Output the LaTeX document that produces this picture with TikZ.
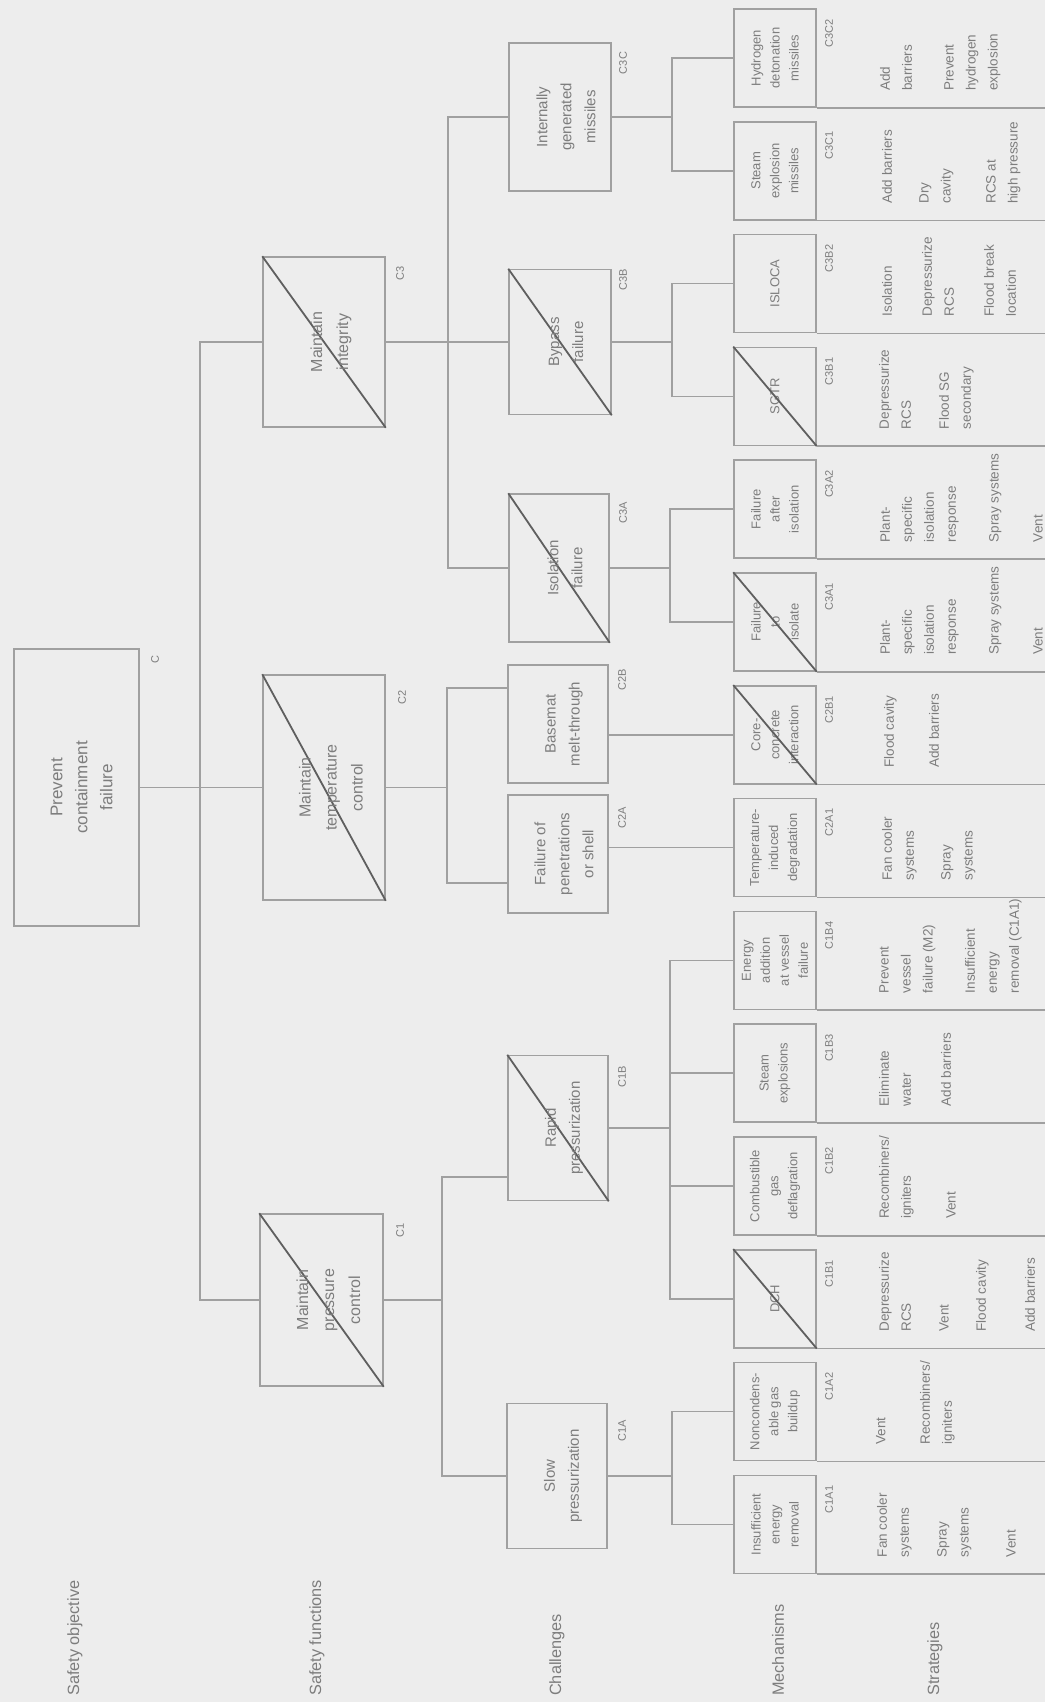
\documentclass[tikz,border=0pt]{standalone}
\usepackage{fontspec}
\setmainfont{Liberation Sans}
\definecolor{bgc}{RGB}{237,237,237}
\definecolor{lnc}{RGB}{160,160,160}
\definecolor{txc}{RGB}{125,125,125}
\definecolor{dgc}{RGB}{95,95,95}
\begin{document}
\begin{tikzpicture}[x=1pt,y=-1pt,
  box/.style={draw=lnc, line width=1.5pt, inner sep=0pt},
  conn/.style={draw=lnc, line width=1.5pt},
  diag/.style={draw=dgc, line width=1.8pt},
  objtext/.style={rotate=90, align=center, text=txc, inner sep=0pt, font=\fontsize{17}{25}\selectfont},
  sftext/.style={rotate=90, align=center, text=txc, inner sep=0pt, font=\fontsize{16}{26}\selectfont},
  chtext/.style={rotate=90, align=center, text=txc, inner sep=0pt, font=\fontsize{15}{24}\selectfont},
  mtext/.style={rotate=90, align=center, text=txc, inner sep=0pt, font=\fontsize{13}{19}\selectfont},
  idl/.style={rotate=90, text=txc, inner sep=0pt, font=\fontsize{11}{13}\selectfont},
  strat/.style={rotate=90, anchor=north west, align=left, text=txc, inner sep=0pt, font=\fontsize{13.5}{22}\selectfont},
  coltitle/.style={rotate=90, anchor=west, text=txc, inner sep=0pt, font=\fontsize{16.3}{20}\selectfont}]
\fill[bgc] (0,0) rectangle (1045,1702);
\useasboundingbox (0,0) rectangle (1045,1702);

% column titles
\node[coltitle] (t1) at (75,1696) {Safety objective};
\node[coltitle] (t2) at (317,1696) {Safety functions};
\node[coltitle] (t3) at (557,1696) {Challenges};
\node[coltitle] (t4) at (778,1696) {Mechanisms};
\node[coltitle] (t5) at (935,1696) {Strategies};

% safety objective
\node[box, minimum width=125pt, minimum height=277pt] (obj) at (76.5,787.5) {};
\node[objtext] (objl) at ([xshift=5pt]obj.center) {Prevent\\containment\\failure};
\node[idl] (objid) at (155,660) {C};

% safety functions
\node[box, minimum width=122pt, minimum height=170pt] (c3) at (324,342) {};
\node[box, minimum width=122pt, minimum height=225pt] (c2) at (324,787.5) {};
\node[box, minimum width=123pt, minimum height=172pt] (c1) at (321.5,1300) {};
\draw[diag] (c3.north west) -- (c3.south east);
\draw[diag] (c2.north west) -- (c2.south east);
\draw[diag] (c1.north west) -- (c1.south east);
\node[sftext] (c3l) at ([xshift=7pt]c3.center) {Maintain\\integrity};
\node[sftext] (c2l) at ([xshift=7pt]c2.center) {Maintain\\temperature\\control};
\node[sftext] (c1l) at ([xshift=7pt]c1.center) {Maintain\\pressure\\control};
\node[idl] (c3id) at (400,273) {C3};
\node[idl] (c2id) at (402,697) {C2};
\node[idl] (c1id) at (400,1230) {C1};

% challenges
\node[box, minimum width=102pt, minimum height=148pt] (c3c) at (560,117) {};
\node[box, minimum width=102pt, minimum height=145pt] (c3b) at (560,342) {};
\node[box, minimum width=100pt, minimum height=148pt] (c3a) at (559,568) {};
\node[box, minimum width=100pt, minimum height=118pt] (c2b) at (558,724) {};
\node[box, minimum width=100pt, minimum height=118pt] (c2a) at (558,854) {};
\node[box, minimum width=100pt, minimum height=145pt] (c1b) at (558,1128) {};
\node[box, minimum width=100pt, minimum height=145pt] (c1a) at (557,1476) {};
\draw[diag] (c3b.north west) -- (c3b.south east);
\draw[diag] (c3a.north west) -- (c3a.south east);
\draw[diag] (c1b.north west) -- (c1b.south east);
\node[chtext] (c3cl) at ([xshift=6pt]c3c.center) {Internally\\generated\\missiles};
\node[chtext] (c3bl) at ([xshift=6pt]c3b.center) {Bypass\\failure};
\node[chtext] (c3al) at ([xshift=6pt]c3a.center) {Isolation\\failure};
\node[chtext] (c2bl) at ([xshift=6pt]c2b.center) {Basemat\\melt-through};
\node[chtext] (c2al) at ([xshift=6pt]c2a.center) {Failure of\\penetrations\\or shell};
\node[chtext] (c1bl) at ([xshift=6pt]c1b.center) {Rapid\\pressurization};
\node[chtext] (c1al) at ([xshift=6pt]c1a.center) {Slow\\pressurization};
\node[idl] (c3cid) at (623,63) {C3C};
\node[idl] (c3bid) at (623,280) {C3B};
\node[idl] (c3aid) at (623,513) {C3A};
\node[idl] (c2bid) at (622,680) {C2B};
\node[idl] (c2aid) at (622,818) {C2A};
\node[idl] (c1bid) at (622,1077) {C1B};
\node[idl] (c1aid) at (622,1431) {C1A};

% mechanisms
\newcommand\mechbox[3]{%
  \node[box, minimum width=82pt, minimum height=98pt] (m#1) at (775,{58+112.8*#1}) {};
  \node[mtext] (ml#1) at (m#1.center) {#3};
  \node[idl] (mid#1) at (829,{33+112.8*#1}) {#2};
}
\mechbox{0}{C3C2}{Hydrogen\\detonation\\missiles}
\mechbox{1}{C3C1}{Steam\\explosion\\missiles}
\mechbox{2}{C3B2}{ISLOCA}
\mechbox{3}{C3B1}{SGTR}
\mechbox{4}{C3A2}{Failure\\after\\isolation}
\mechbox{5}{C3A1}{Failure\\to\\isolate}
\mechbox{6}{C2B1}{Core-\\concrete\\interaction}
\mechbox{7}{C2A1}{Temperature-\\induced\\degradation}
\mechbox{8}{C1B4}{Energy\\addition\\at vessel\\failure}
\mechbox{9}{C1B3}{Steam\\explosions}
\mechbox{10}{C1B2}{Combustible\\gas\\deflagration}
\mechbox{11}{C1B1}{DCH}
\mechbox{12}{C1A2}{Noncondens-\\able gas\\buildup}
\mechbox{13}{C1A1}{Insufficient\\energy\\removal}
\draw[diag] (m3.north west) -- (m3.south east);
\draw[diag] (m5.north west) -- (m5.south east);
\draw[diag] (m6.north west) -- (m6.south east);
\draw[diag] (m11.north west) -- (m11.south east);

% row separators
\coordinate (R) at (1045,0);
\foreach \i in {0,...,13} {\draw[conn] (m\i.south east) -- (m\i.south east -| R);}

% tree connectors
\coordinate (tk) at (200,787.5);
\draw[conn] (obj.east) -- (c2.west);
\draw[conn] (c3.west) -| (tk) |- (c1.west);

\coordinate (j3) at (448,342);
\draw[conn] (c3.east) -- (c3b.west);
\draw[conn] (c3c.west) -| (j3) |- (c3a.west);

\coordinate (j2a) at (447,688);
\coordinate (j2b) at (447,883);
\draw[conn] (c2.east) -- (c2.east -| j2a);
\draw[conn] (j2a -| c2b.west) -- (j2a) -- (j2b) -- (j2b -| c2a.west);

\coordinate (j1b) at (442,1177);
\draw[conn] (c1.east) -- (c1.east -| j1b);
\draw[conn] (j1b -| c1b.west) -- (j1b) |- (c1a.west);

\coordinate (k3c) at (672,117);
\draw[conn] (c3c.east) -- (k3c);
\draw[conn] (m0.west) -| (k3c) |- (m1.west);
\coordinate (k3b) at (672,342);
\draw[conn] (c3b.east) -- (k3b);
\draw[conn] (m2.west) -| (k3b) |- (m3.west);
\coordinate (k3a) at (670,568);
\draw[conn] (c3a.east) -- (k3a);
\draw[conn] (m4.west) -| (k3a) |- (m5.west);
\draw[conn] (c2b.east |- m6.west) -- (m6.west);
\draw[conn] (c2a.east |- m7.west) -- (m7.west);
\coordinate (k1b) at (670,1128);
\draw[conn] (c1b.east) -- (k1b);
\draw[conn] (m8.west) -| (k1b) |- (m11.west);
\draw[conn] (m9.west) -- (m9.west -| k1b);
\draw[conn] (m10.west) -- (m10.west -| k1b);
\coordinate (k1a) at (672,1476);
\draw[conn] (c1a.east) -- (k1a);
\draw[conn] (m12.west) -| (k1a) |- (m13.west);

% strategies
\node[strat] (s0a) at (880,91) {Add\\barriers};
\node[strat] (s0b) at (944,91) {Prevent\\hydrogen\\explosion};
\node[strat] (s1a) at (882,203.8) {Add barriers};
\node[strat] (s1b) at (919,203.8) {Dry\\cavity};
\node[strat] (s1c) at (986,203.8) {RCS at\\high pressure};
\node[strat] (s2a) at (882,316.6) {Isolation};
\node[strat] (s2b) at (922,316.6) {Depressurize\\RCS};
\node[strat] (s2c) at (984,316.6) {Flood break\\location};
\node[strat] (s3a) at (879,429.4) {Depressurize\\RCS};
\node[strat] (s3b) at (939,429.4) {Flood SG\\secondary};
\node[strat] (s4a) at (880,542.2) {Plant-\\specific\\isolation\\response};
\node[strat] (s4b) at (989,542.2) {Spray systems};
\node[strat] (s4c) at (1033,542.2) {Vent};
\node[strat] (s5a) at (880,655) {Plant-\\specific\\isolation\\response};
\node[strat] (s5b) at (989,655) {Spray systems};
\node[strat] (s5c) at (1033,655) {Vent};
\node[strat] (s6a) at (884,767.8) {Flood cavity};
\node[strat] (s6b) at (929,767.8) {Add barriers};
\node[strat] (s7a) at (882,880.6) {Fan cooler\\systems};
\node[strat] (s7b) at (941,880.6) {Spray\\systems};
\node[strat] (s8a) at (879,993.4) {Prevent\\vessel\\failure (M2)};
\node[strat] (s8b) at (965,993.4) {Insufficient\\energy\\removal (C1A1)};
\node[strat] (s9a) at (879,1106.2) {Eliminate\\water};
\node[strat] (s9b) at (941,1106.2) {Add barriers};
\node[strat] (s10a) at (879,1219) {Recombiners/\\igniters};
\node[strat] (s10b) at (946,1219) {Vent};
\node[strat] (s11a) at (879,1331.8) {Depressurize\\RCS};
\node[strat] (s11b) at (939,1331.8) {Vent};
\node[strat] (s11c) at (976,1331.8) {Flood cavity};
\node[strat] (s11d) at (1025,1331.8) {Add barriers};
\node[strat] (s12a) at (876,1444.6) {Vent};
\node[strat] (s12b) at (920,1444.6) {Recombiners/\\igniters};
\node[strat] (s13a) at (877,1557.4) {Fan cooler\\systems};
\node[strat] (s13b) at (937,1557.4) {Spray\\systems};
\node[strat] (s13c) at (1006,1557.4) {Vent};
\end{tikzpicture}
\end{document}
